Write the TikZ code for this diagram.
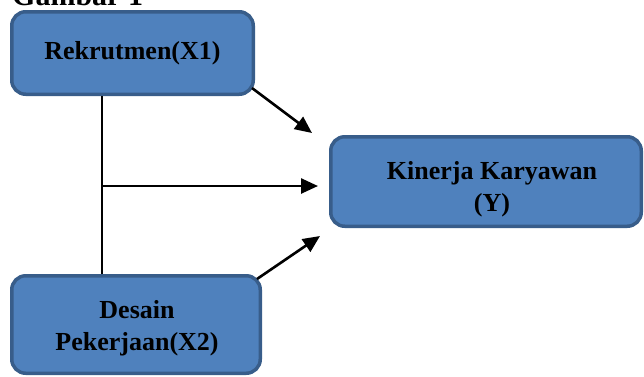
\documentclass[tikz,border=0pt]{standalone}
\usepackage{fontspec}
\setmainfont{Liberation Serif}
\usetikzlibrary{arrows.meta}
\definecolor{boxfill}{RGB}{79,129,189}
\definecolor{boxline}{RGB}{56,93,138}
\tikzset{
  varbox/.style={draw=boxline, fill=boxfill, line width=3.5pt, rounded corners=14pt, inner sep=0pt},
  vartext/.style={font=\bfseries\fontsize{26}{32}\selectfont, align=center, inner sep=0pt},
  conn/.style={line width=2.6pt, -{Triangle[length=17pt,width=15pt]}},
  trunk/.style={line width=1.7pt}
}
\begin{document}
\begin{tikzpicture}[x=1pt,y=-1pt]
\useasboundingbox (0,0) rectangle (644,376);
\clip (0,0) rectangle (644,376);
\node[font=\bfseries\fontsize{30}{34}\selectfont, anchor=base west, inner sep=0pt] (title) at (12,5) {Gambar 1};
\node[varbox, minimum width=241.5pt, minimum height=82.5pt] (x1) at (132.5,53) {};
\node[vartext] (x1t) at (132.5,53) {Rekrutmen(X1)};
\node[varbox, minimum width=248.5pt, minimum height=97.5pt] (x2) at (136,324.5) {};
\node[vartext] (x2t) at (137,328) {Desain\\Pekerjaan(X2)};
\node[varbox, minimum width=310.5pt, minimum height=89.5pt] (y) at (486,181.5) {};
\node[vartext] (yt) at (492,189) {Kinerja Karyawan\\(Y)};
\coordinate (t1) at (102,96);
\coordinate (t2) at (102,274);
\coordinate (tm) at (102,186);
\coordinate (e1) at (312,133);
\coordinate (e2) at (318,186);
\coordinate (e3) at (320,236);
\coordinate (s1) at (252,88);
\coordinate (s3) at (257,279);
\draw[trunk] (t1) -- (t2);
\draw[conn] (s1) -- (e1);
\draw[conn] (tm) -- (e2);
\draw[conn] (s3) -- (e3);
\end{tikzpicture}
\end{document}
